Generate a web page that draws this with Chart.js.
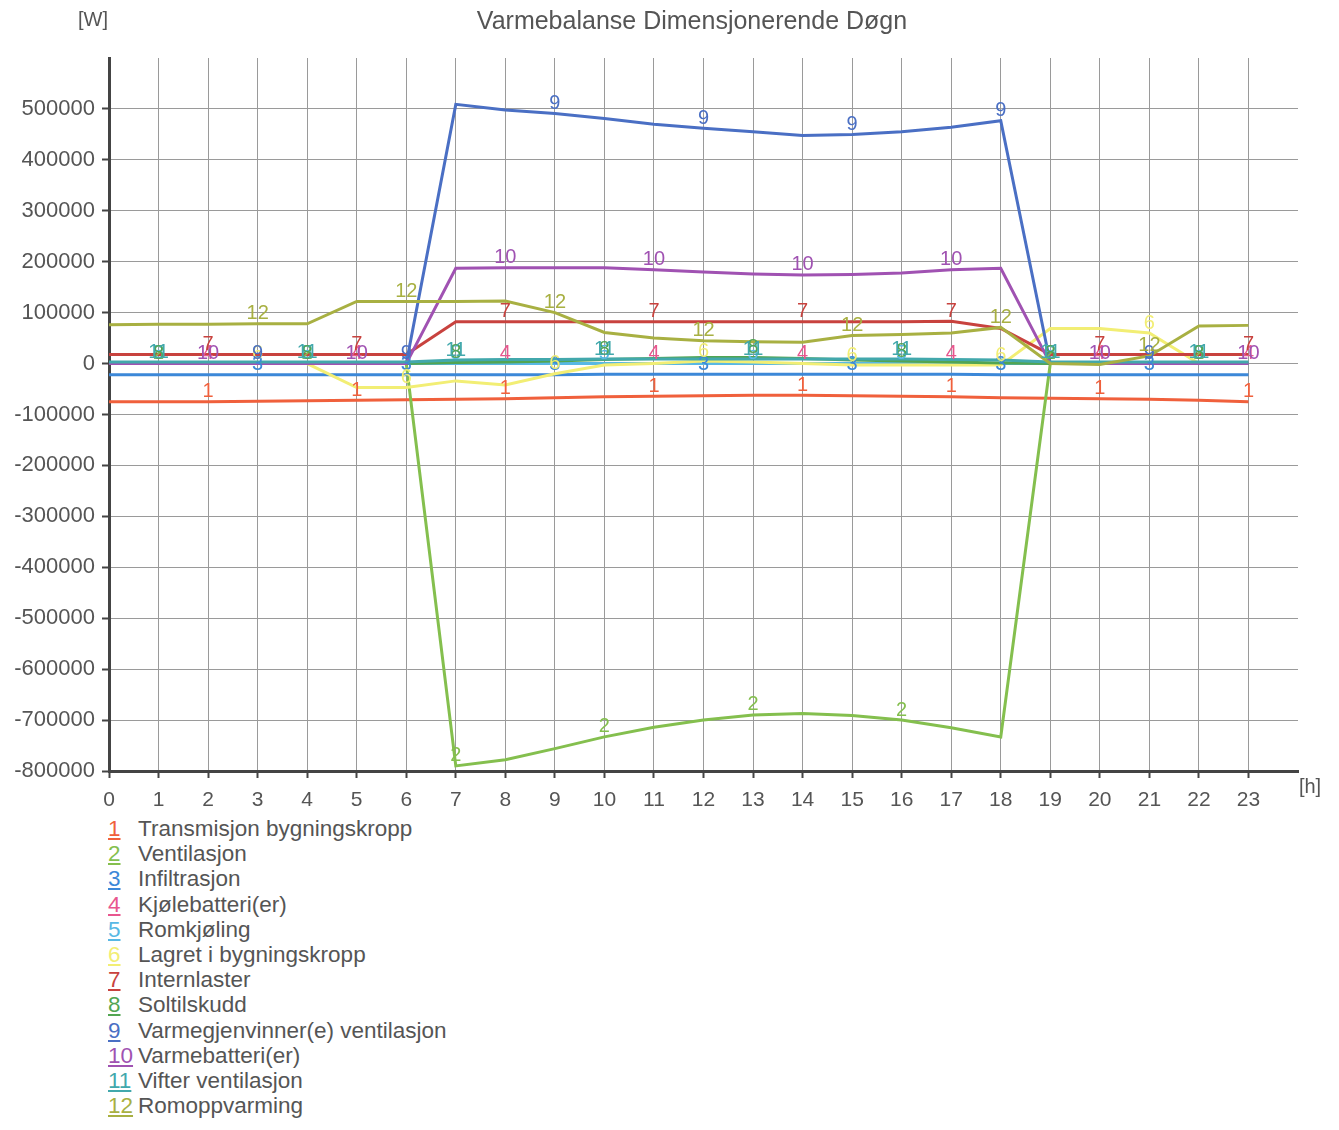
<!DOCTYPE html>
<html>
<head>
<meta charset="utf-8">
<script src="https://cdn.jsdelivr.net/npm/chart.js@4.4.1/dist/chart.umd.min.js"></script>
<style>
  body { margin: 0; background: #fff; font-family: "Liberation Sans", Arial, sans-serif; }
  #wrap { position: relative; width: 1339px; height: 815px; }
  #legend { position: absolute; left: 108px; top: 816px; font-size: 22.5px; color: #555; }
  #legend div { height: 25.2px; line-height: 25.2px; white-space: nowrap; }
  #legend .num { display: inline-block; width: 30px; text-decoration: underline; text-underline-offset: 2px; }
</style>
</head>
<body>
<div id="wrap"><canvas id="chart"></canvas></div>
<div id="legend"></div>
<script>
const title = "Varmebalanse Dimensjonerende Døgn";
const hours = [0,1,2,3,4,5,6,7,8,9,10,11,12,13,14,15,16,17,18,19,20,21,22,23];

const seriesNames = [
  "Transmisjon bygningskropp", "Ventilasjon", "Infiltrasjon", "Kjølebatteri(er)",
  "Romkjøling", "Lagret i bygningskropp", "Internlaster", "Soltilskudd",
  "Varmegjenvinner(e) ventilasjon", "Varmebatteri(er)", "Vifter ventilasjon", "Romoppvarming"
];
const seriesColors = [
  "#f0603c", "#84bf4e", "#3c88d8", "#e8568e", "#58b8e4", "#f2ee74",
  "#c8423e", "#52a552", "#4a6fc4", "#a052b2", "#42a8ac", "#a8b042"
];

// values in W, one per hour 0..23
const transmisjon = [-75000,-75000,-75000,-74000,-73000,-72000,-71000,-70000,-69000,-67000,-65000,-64000,-63000,-62000,-62000,-63000,-64000,-65000,-67000,-68000,-69000,-70000,-72000,-75000];
const ventilasjon = [0,0,0,0,0,0,0,-790000,-778000,-756000,-733000,-714000,-700000,-690000,-687000,-691000,-700000,-715000,-733000,0,0,0,0,0];
const infiltrasjon = [-22000,-22000,-22000,-22000,-22000,-22000,-22000,-22000,-22000,-22000,-21000,-21000,-21000,-21000,-21000,-21000,-21000,-21000,-22000,-22000,-22000,-22000,-22000,-22000];
const kjolebatteri = [0,0,0,0,0,0,0,0,0,0,0,0,0,0,0,0,0,0,0,0,0,0,0,0];
const romkjoling = [0,0,0,0,0,0,0,0,0,0,0,0,0,0,0,0,0,0,0,0,0,0,0,0];
const lagret = [0,0,0,0,0,-47000,-47000,-34000,-42000,-20000,-3000,0,5000,3000,0,-3000,-3000,-3000,-3000,69000,69000,60000,0,0];
const internlaster = [18000,18000,18000,18000,18000,18000,18000,82000,82000,82000,82000,82000,82000,82000,82000,82000,82000,83000,69000,18000,18000,18000,18000,18000];
const soltilskudd = [0,0,0,0,0,0,0,2000,3000,5000,8000,10000,12000,12000,10000,7000,5000,3000,1000,0,0,0,0,0];
const varmegjenvinner = [0,0,0,0,0,0,0,509000,498000,491000,481000,470000,462000,455000,448000,450000,455000,464000,477000,0,0,0,0,0];
const varmebatteri = [0,0,0,0,0,0,0,187000,188000,188000,188000,184000,180000,176000,174000,175000,178000,184000,187000,0,0,0,0,0];
const vifter = [3000,3000,3000,3000,3000,3000,3000,7000,8000,8000,9000,9000,9000,9000,9000,9000,9000,8000,7000,3000,3000,3000,3000,3000];
const romoppvarming = [76000,77000,77000,78000,78000,122000,122000,122000,123000,100000,61000,50000,45000,43000,42000,55000,57000,60000,71000,0,-2000,15000,74000,75000];

const seriesValues = [transmisjon, ventilasjon, infiltrasjon, kjolebatteri, romkjoling, lagret,
  internlaster, soltilskudd, varmegjenvinner, varmebatteri, vifter, romoppvarming];

const datasets = seriesValues.map((vals, i) => ({
  label: (i + 1) + " " + seriesNames[i],
  data: hours.map((h, j) => ({ x: h, y: vals[j] })),
  borderColor: seriesColors[i],
  borderWidth: 3,
  pointRadius: 0,
  tension: 0,
  fill: false,
  order: seriesValues.length - i
}));

// number labels on the lines, every third hour (none at hour 0)
const seriesLabels = {
  id: "seriesLabels",
  afterDatasetsDraw(chart) {
    const ctx = chart.ctx;
    ctx.save();
    ctx.font = "20px 'Liberation Sans', Arial, sans-serif";
    ctx.textAlign = "center";
    ctx.textBaseline = "middle";
    chart.data.datasets.forEach((ds, i) => {
      const meta = chart.getDatasetMeta(i);
      const n = i + 1;
      const start = (3 - n % 3) % 3;
      ctx.fillStyle = seriesColors[i];
      meta.data.forEach((pt, j) => {
        if (j > 0 && j >= start && (j - start) % 3 === 0) {
          ctx.fillText(String(n), pt.x, pt.y - 10);
        }
      });
    });
    ctx.restore();
  }
};

const extraText = {
  id: "extraText",
  afterDraw(chart) {
    const ctx = chart.ctx;
    ctx.save();
    ctx.fillStyle = "#555";
    ctx.textBaseline = "middle";
    ctx.font = "25px 'Liberation Sans', Arial, sans-serif";
    ctx.textAlign = "center";
    ctx.fillText(title, 692, 22);
    ctx.font = "20px 'Liberation Sans', Arial, sans-serif";
    ctx.fillText("[W]", 93, 20);
    ctx.fillText("[h]", 1310, 787);
    ctx.restore();
  }
};

new Chart(document.getElementById("chart"), {
  type: "line",
  data: { datasets },
  options: {
    responsive: true,
    maintainAspectRatio: false,
    animation: false,
    layout: { padding: { top: 58, right: 41, left: 0, bottom: 0 } },
    plugins: {
      legend: { display: false },
      tooltip: { enabled: false }
    },
    scales: {
      x: {
        type: "linear",
        min: 0,
        max: 24,
        afterFit: s => { s.height = 44; },
        ticks: {
          stepSize: 1,
          autoSkip: false,
          maxRotation: 0,
          padding: 10,
          color: "#555",
          font: { size: 21, family: "'Liberation Sans', Arial, sans-serif" },
          callback: v => (v === 24 ? "" : v)
        },
        grid: {
          color: c => (c.tick && c.tick.value === 24 ? "transparent" : "#9a9a9a"),
          lineWidth: 1,
          tickLength: 7,
          tickWidth: 2,
          tickColor: c => (c.tick && c.tick.value === 24 ? "transparent" : "#444")
        },
        border: { color: "#444", width: 3 }
      },
      y: {
        min: -800000,
        max: 600000,
        afterFit: s => { s.width = 109; },
        ticks: {
          stepSize: 100000,
          padding: 7,
          color: "#555",
          font: { size: 22, family: "'Liberation Sans', Arial, sans-serif" },
          callback: v => (v === 600000 ? "" : v)
        },
        grid: {
          color: c => (c.tick && c.tick.value === 600000 ? "transparent" : "#9a9a9a"),
          lineWidth: 1,
          tickLength: 7,
          tickWidth: 2,
          tickColor: c => (c.tick && c.tick.value === 600000 ? "transparent" : "#444")
        },
        border: { color: "#444", width: 3 }
      }
    }
  },
  plugins: [seriesLabels, extraText]
});

// legend below the chart
const legend = document.getElementById("legend");
seriesNames.forEach((name, i) => {
  const row = document.createElement("div");
  const num = document.createElement("span");
  num.className = "num";
  num.style.color = seriesColors[i];
  num.textContent = i + 1;
  row.appendChild(num);
  row.appendChild(document.createTextNode(name));
  legend.appendChild(row);
});
</script>
</body>
</html>
